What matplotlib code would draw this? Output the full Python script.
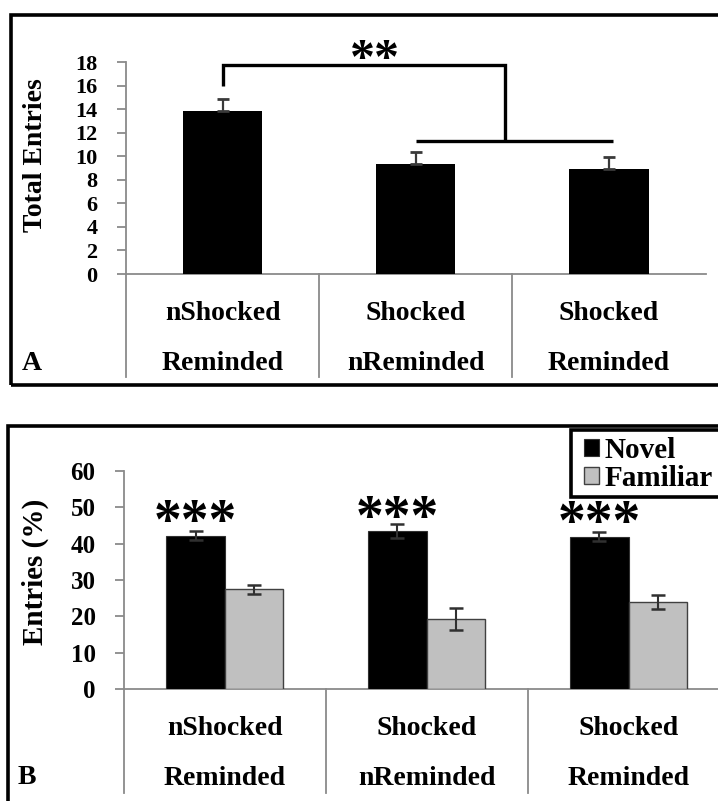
import matplotlib
matplotlib.use('Agg')
import matplotlib.pyplot as plt
from matplotlib.patches import Rectangle
import numpy as np

plt.rcParams['font.family'] = ['Liberation Serif', 'DejaVu Serif']
plt.rcParams['font.weight'] = 'bold'

# ---------------- data ----------------
groups_top = ['nShocked', 'Shocked', 'Shocked']
groups_bottom = ['Reminded', 'nReminded', 'Reminded']

total_entries = [13.85, 9.3, 8.9]
total_err = [1.05, 1.05, 1.0]

novel = [42.2, 43.4, 41.9]
novel_err = [1.2, 2.0, 1.3]
familiar = [27.4, 19.4, 24.0]
familiar_err = [1.25, 3.0, 2.0]

series_names = ['Novel', 'Familiar']
yticks_a = list(range(0, 19, 2))
yticks_b = list(range(0, 61, 10))

# ---------------- style ----------------
W, H = 718, 801
GRAY = '#8a8a8a'
fig = plt.figure(figsize=(W / 100, H / 100), dpi=100)


def fx(px):
    return px / W


def fy(py):
    return 1 - py / H


def style_axis(ax, yticks, sep_len, ticksize):
    for s in ['top', 'right']:
        ax.spines[s].set_visible(False)
    for s in ['left', 'bottom']:
        ax.spines[s].set_color(GRAY)
        ax.spines[s].set_linewidth(1.3)
    ax.set_yticks(yticks)
    ax.set_ylim(yticks[0], yticks[-1])
    ax.set_xlim(-0.5, 2.5)
    ax.set_xticks([])
    ax.tick_params(axis='y', direction='out', length=6.5, width=1.3,
                   color=GRAY, pad=14, labelsize=ticksize)
    for lab in ax.get_yticklabels():
        lab.set_fontweight('bold')
    # category separators (multi-level category axis look)
    for b in [-0.5, 0.5, 1.5]:
        ax.plot([b, b], [0, -sep_len], transform=ax.get_xaxis_transform(),
                color=GRAY, lw=1.3, clip_on=False)
    for i, (t, b) in enumerate(zip(groups_top, groups_bottom)):
        ax.annotate(t, xy=(i, 0), xycoords=('data', 'axes fraction'),
                    xytext=(0, -33), textcoords='offset points',
                    ha='center', va='baseline', fontsize=20, fontweight='bold')
        ax.annotate(b, xy=(i, 0), xycoords=('data', 'axes fraction'),
                    xytext=(0, -69), textcoords='offset points',
                    ha='center', va='baseline', fontsize=20, fontweight='bold')


x = np.arange(len(groups_top))

# ---------------- panel A ----------------
axA = fig.add_axes([fx(126), fy(274), fx(579.7), 212 / H])
axA.bar(x, total_entries, width=0.41, color='black', zorder=3)
axA.errorbar(x, total_entries, yerr=[np.zeros(len(x)), total_err], fmt='none',
             ecolor='#3a3a3a', elinewidth=1.6, capsize=4.5, capthick=2, zorder=4)
style_axis(axA, yticks_a, 0.486, 16)
axA.set_ylabel('Total Entries', fontsize=20, fontweight='bold')
axA.yaxis.set_label_coords(-0.1345, 0.561)

# significance bracket
br_kw = dict(color='black', lw=2.4, solid_capstyle='butt', solid_joinstyle='miter', clip_on=False)
axA.plot([0, 0, 1.46, 1.46], [16.0, 17.75, 17.75, 11.3], **br_kw)
axA.plot([1.0, 2.02], [11.3, 11.3], **br_kw)
axA.text(0.79, 18.1, '**', ha='center', va='center', fontsize=36,
         fontweight='bold', clip_on=False)

fig.text(fx(32), fy(370), 'A', ha='center', va='baseline', fontsize=20, fontweight='bold')

# ---------------- panel B ----------------
axB = fig.add_axes([fx(124), fy(689.3), fx(605.4), 218.6 / H])
bw = 0.29
b1 = axB.bar(x - bw / 2, novel, width=bw, color='black', edgecolor='#303030',
             lw=0.8, zorder=3)
b2 = axB.bar(x + bw / 2, familiar, width=bw, color='#c0c0c0', edgecolor='#404040',
             lw=1.0, zorder=3)
axB.errorbar(x - bw / 2, novel, yerr=novel_err, fmt='none', ecolor='#303030',
             elinewidth=1.5, capsize=5, capthick=1.8, zorder=4)
axB.errorbar(x + bw / 2, familiar, yerr=familiar_err, fmt='none', ecolor='#303030',
             elinewidth=1.5, capsize=5, capthick=1.8, zorder=4)
style_axis(axB, yticks_b, 0.474, 18)
axB.set_ylabel('Entries (%)', fontsize=21, fontweight='bold')
axB.yaxis.set_label_coords(-0.124, 0.537)

for xi, v in zip(x - bw / 2, novel):
    axB.text(xi, v + 3.2, '***', ha='center', va='center', fontsize=40,
             fontweight='bold', clip_on=False, zorder=6)

# legend: frame drawn separately so that it runs off the right edge like the original
axB.add_patch(Rectangle((fx(571), fy(497.5)), fx(200), (497.5 - 430.5) / H,
                        transform=fig.transFigure, facecolor='white',
                        edgecolor='black', lw=2.6, clip_on=False, zorder=5))
leg = axB.legend([b1, b2], series_names, loc='upper left',
                 bbox_to_anchor=(fx(578), fy(431)), bbox_transform=fig.transFigure,
                 borderaxespad=0, frameon=False,
                 prop=dict(family='Liberation Serif', weight='bold', size=21),
                 handlelength=0.52, handleheight=0.52, handletextpad=0.2,
                 borderpad=0.2, labelspacing=0.05)
leg.set_zorder(6)

fig.text(fx(27), fy(784), 'B', ha='center', va='baseline', fontsize=20, fontweight='bold')

# ---------------- panel frames ----------------
fig.patches.append(Rectangle((fx(11), fy(385)), fx(760), (385 - 14.5) / H,
                             transform=fig.transFigure, fill=False, lw=2.6,
                             edgecolor='black'))
fig.patches.append(Rectangle((fx(7.5), -0.05), fx(760), fy(426.5) + 0.05,
                             transform=fig.transFigure, fill=False, lw=2.6,
                             edgecolor='black'))

fig.savefig('out.png', dpi=100)
